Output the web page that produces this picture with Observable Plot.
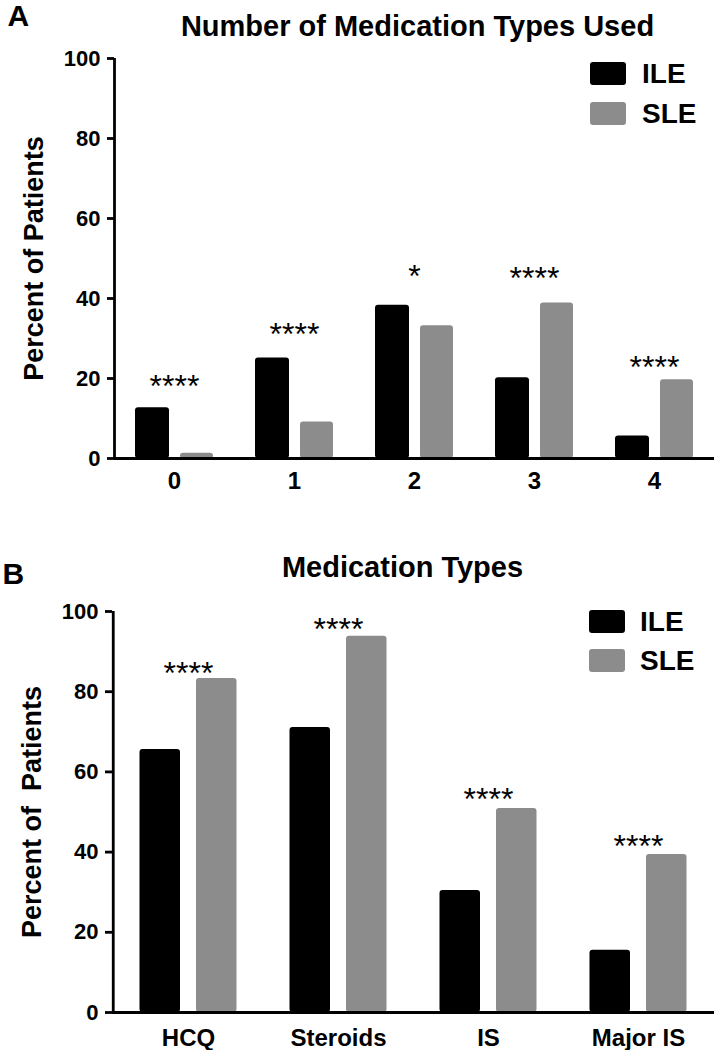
<!DOCTYPE html>
<html><head><meta charset="utf-8">
<script src="https://cdn.jsdelivr.net/npm/d3@7"></script>
<script src="https://cdn.jsdelivr.net/npm/@observablehq/plot@0.6"></script>
<style>
body{margin:0;background:#fff;}
#wrap{position:relative;width:715px;height:1050px;font-family:"Liberation Sans",Arial,sans-serif;overflow:hidden;}
.chart{position:absolute;left:0;}
.sw{position:absolute;width:36px;height:23px;border-radius:3px;}
.lt{position:absolute;font-size:28px;font-weight:bold;line-height:28px;color:#000;}
</style></head><body><div id="wrap"></div>
<script>
// ---- data ----
const seriesNames = ["ILE", "SLE"];
const seriesColors = ["#000000", "#8c8c8c"];
const yTicks = [0, 20, 40, 60, 80, 100];

const countCats = ["0", "1", "2", "3", "4"];
const countILE = [12.7, 25.1, 38.3, 20.2, 5.6];
const countSLE = [1.3, 9.1, 33.2, 38.9, 19.7];
const countStars = ["****", "****", "*", "****", "****"];
const countStarY = [20, 33, 47.5, 47, 24.7];

const typeCats = ["HCQ", "Steroids", "IS", "Major IS"];
const typeILE = [65.6, 71.1, 30.4, 15.5];
const typeSLE = [83.3, 93.8, 50.9, 39.4];
const typeStars = ["****", "****", "****", "****"];
const typeStarY = [86.5, 97.5, 55, 43.4];

const titleA = "Number of Medication Types Used";
const titleB = "Medication Types";
const ylabelA = "Percent of Patients";
const ylabelB = "Percent of\u00a0 Patients";

const FONT = '"Liberation Sans", Arial, sans-serif';

function panel(o) {
  const rows = o.cats.flatMap((c, i) => [
    {cat: c, series: seriesNames[0], value: o.ile[i]},
    {cat: c, series: seriesNames[1], value: o.sle[i]}
  ]);
  const starRows = o.cats.map((c, i) => ({cat: c, text: o.stars[i], y: o.starY[i]}));
  const width = 715, marginRight = 1;
  const step = (width - marginRight - o.ml) / o.cats.length;
  return Plot.plot({
    width, height: o.height,
    marginTop: o.mt, marginBottom: o.mb, marginLeft: o.ml, marginRight,
    style: {fontFamily: FONT, fontWeight: "bold", color: "#000", background: "#fff", overflow: "visible"},
    x: {type: "band", domain: o.cats, padding: 0, label: null},
    y: {domain: [0, 100], label: null},
    marks: [
      Plot.barY(rows.filter(d => d.series === seriesNames[0]), {
        x: "cat", y: "value", fill: seriesColors[0], insetLeft: o.insets[0], insetRight: o.insets[1], rx: 3
      }),
      Plot.barY(rows.filter(d => d.series === seriesNames[1]), {
        x: "cat", y: "value", fill: seriesColors[1], insetLeft: o.insets[2], insetRight: o.insets[3], rx: 3
      }),
      Plot.ruleY([0], {strokeWidth: 2.8}),
      Plot.ruleX([o.cats[0]], {x: d => d, y1: 0, y2: 100, dx: -step / 2, strokeWidth: 2.8}),
      Plot.axisY({ticks: yTicks, tickSize: 7, tickPadding: 7, fontSize: 22, strokeWidth: 2.8, label: null}),
      Plot.axisX({tickSize: 0, tickPadding: o.xPad, fontSize: 24, label: null}),
      Plot.text(starRows, {x: "cat", y: "y", text: "text", fontSize: 32, fontWeight: "normal", dy: 8}),
      Plot.text([o.ylabel], {frameAnchor: "left", textAnchor: "middle", lineAnchor: "middle", rotate: -90, dx: -80, fontSize: 27}),
      Plot.text([o.title], {frameAnchor: "top", lineAnchor: "middle", dx: o.titleDx, dy: o.titleDy, fontSize: 29}),
      Plot.text([o.letter], {frameAnchor: "top-left", textAnchor: "start", lineAnchor: "middle", dx: o.letterDx, dy: o.letterDy, fontSize: 30})
    ]
  });
}

const wrap = document.getElementById("wrap");

const chartA = panel({
  cats: countCats, ile: countILE, sle: countSLE, stars: countStars, starY: countStarY,
  height: 505, mt: 58, mb: 47, ml: 114, insets: [21, 65, 66, 21], xPad: 13,
  title: titleA, titleDx: 3, titleDy: -32, letter: "A", letterDx: -107, letterDy: -42, ylabel: ylabelA
});
chartA.classList.add("chart");
chartA.style.top = "0px";
wrap.appendChild(chartA);

const chartB = panel({
  cats: typeCats, ile: typeILE, sle: typeSLE, stars: typeStars, starY: typeStarY,
  height: 545, mt: 106, mb: 38, ml: 112, insets: [26.5, 83, 83, 26.5], xPad: 16,
  title: titleB, titleDx: -11, titleDy: -44, letter: "B", letterDx: -110, letterDy: -37, ylabel: ylabelB
});
chartB.classList.add("chart");
chartB.style.top = "505px";
wrap.appendChild(chartB);

// legends
function legend(top0, swLeft, txtLeft, gap) {
  seriesNames.forEach((name, i) => {
    const sw = document.createElement("div");
    sw.className = "sw";
    sw.style.left = swLeft + "px";
    sw.style.top = (top0 + i * gap) + "px";
    sw.style.background = seriesColors[i];
    wrap.appendChild(sw);
    const t = document.createElement("div");
    t.className = "lt";
    t.textContent = name;
    t.style.left = txtLeft + "px";
    t.style.top = (top0 + i * gap - 2) + "px";
    wrap.appendChild(t);
  });
}
legend(62, 590, 642, 40);
legend(610, 589, 640, 39);
</script></body></html>
